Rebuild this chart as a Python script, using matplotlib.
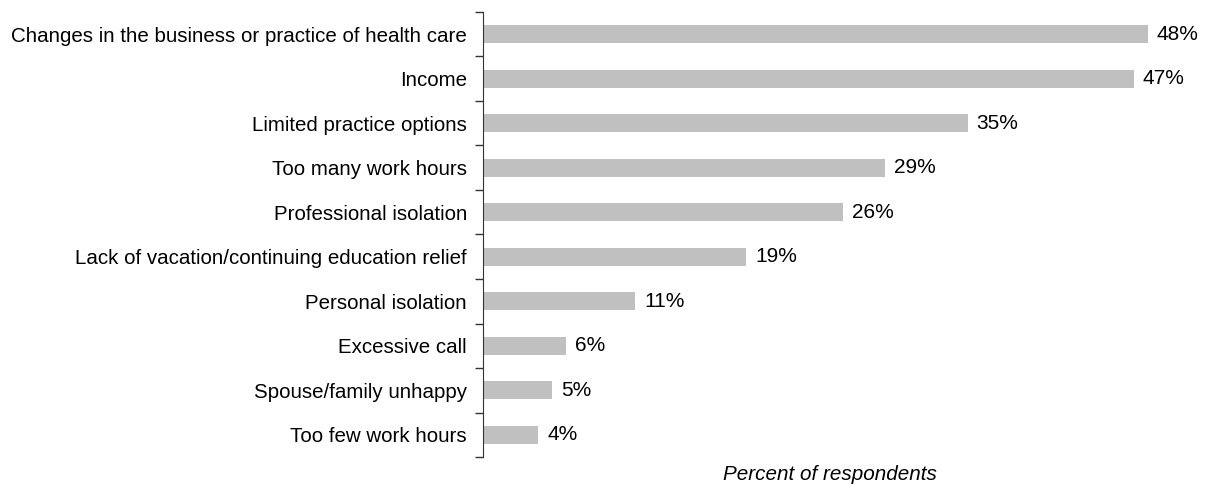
import numpy as np
import matplotlib.pyplot as plt

# reasons for leaving, share of respondents (%)
reasons = ["Changes in the business or practice of health care", "Income",
           "Limited practice options", "Too many work hours", "Professional isolation",
           "Lack of vacation/continuing education relief", "Personal isolation",
           "Excessive call", "Spouse/family unhappy", "Too few work hours"]
percents = [48, 47, 35, 29, 26, 19, 11, 6, 5, 4]

plt.rcParams['font.family'] = ['Liberation Sans', 'DejaVu Sans']

W, H = 1209, 487
fig = plt.figure(figsize=(W / 100, H / 100), dpi=100)
ax = fig.add_axes([483 / W, (H - 457) / H, (1203 - 483) / W, (457 - 12) / H])

y = np.arange(len(reasons))
ax.barh(y, percents, height=0.4, color="#c0c0c0")
ax.set_ylim(len(reasons) - 0.5, -0.5)
ax.set_xlim(0, 52)

for yi, p in zip(y, percents):
    ax.text(p + 0.65, yi, f"{p}%", va="center", ha="left", fontsize=15)

ax.set_yticks(y)
ax.set_yticklabels(reasons, fontsize=14.8)
ax.tick_params(axis="y", which="major", length=0, pad=11.5)
ax.set_yticks(np.arange(len(reasons) + 1) - 0.5, minor=True)
ax.tick_params(axis="y", which="minor", length=6, width=1, color="#333333")
ax.set_xticks([])

for side in ["top", "right", "bottom"]:
    ax.spines[side].set_visible(False)
ax.spines["left"].set_color("#333333")

fig.text(830 / W, (H - 474) / H, "Percent of respondents", style="italic",
         fontsize=14.9, ha="center", va="center")

fig.savefig("out.png", dpi=100)
